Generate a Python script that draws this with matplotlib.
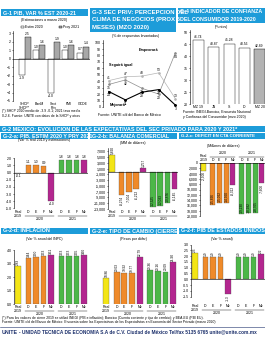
import numpy as np
import matplotlib
matplotlib.use('Agg')
import matplotlib.pyplot as plt
from matplotlib.patches import Rectangle
from matplotlib import font_manager

names = {f.name for f in font_manager.fontManager.ttflist}
narrow = 'Liberation Sans Narrow' if 'Liberation Sans Narrow' in names else 'Liberation Sans'
plt.rcParams['font.family'] = [narrow, 'DejaVu Sans']

# G-1 PIB estimaciones
g1_cats = ['SHCP\nSHCP*', 'BanM', 'Sect\nPriv', 'FMI', 'OCDE']
g1_2020 = [-1.9, 1.0, -4.0, 1.0, 0.7]
g1_2021 = [2.5, 1.6, 1.9, 1.6, 1.4]

# G-3 clima de negocios (% de respuestas)
g3_mejorara = [24, 11, 23, 27, 3]
g3_igual = [41, 47, 48, 53, 13]
g3_empeorara = [35, 42, 29, 20, 84]

# G-4 confianza del consumidor
g4_cats = ['MZ 19', 'JN', 'S', 'D', 'MZ 20']
g4_vals = [46.74, 43.87, 45.28, 43.56, 42.89]

# G-2 expectativas
g2_cats = ['Real\n2019', 'D', 'E', 'F', 'Mz', 'D', 'E', 'F', 'Mz']
g2_years = ['2020', '2021']
g2a_pib = [-0.1, 1.1, 1.0, 0.9, -4.0, 1.8, 1.8, 1.8, 1.8]
g2b_balanza = [5820, -8274, -7004, -6212, 1257, -12325, -12033, -10876, -6145]
g2c_cuenta = [-2900, -15826, -15022, -14960, -8312, -19230, -18982, -18705, -7600]
g2d_inflacion = [2.83, 3.44, 3.50, 3.53, 3.61, 3.53, 3.53, 3.55, 3.60]
g2e_cambio = [18.86, 20.03, 19.92, 19.77, 22.79, 20.36, 20.16, 20.09, 21.90]
g2f_pib_eu = [2.3, 1.9, 1.9, 1.9, -1.3, 1.9, 1.9, 1.9, 2.2]

W, H = 265, 342
BLUE = '#1d9cd9'
YEL, ORA, MAG, GRE = '#f3e516', '#ef8a2a', '#b3268f', '#4cb748'
G2_COLORS = [YEL, ORA, ORA, ORA, MAG, GRE, GRE, GRE, MAG]
POS = np.arange(9) + np.array([0, .35, .35, .35, .35, .7, .7, .7, .7])

fig = plt.figure(figsize=(2.65, 3.42), dpi=100)


def box(x0, y0, x1, y1):
    return [x0 / W, 1 - y1 / H, (x1 - x0) / W, (y1 - y0) / H]


def put(x, y, s, size=2.6, **kw):
    fig.text(x / W, 1 - y / H, s, fontsize=size, **kw)


def banner(x0, y0, x1, y1, lines, size=3.9):
    fig.add_artist(Rectangle((x0 / W, 1 - y1 / H), (x1 - x0) / W, (y1 - y0) / H,
                             transform=fig.transFigure, color=BLUE, lw=0))
    step = (y1 - y0) / len(lines)
    for i, s in enumerate(lines):
        put(x0 + 2, y0 + step * (i + 0.5), s, size=size, color='white',
            va='center', fontweight='bold')


def style(ax, size=2.5):
    for s in ['top', 'right', 'bottom']:
        ax.spines[s].set_visible(False)
    ax.spines['left'].set_linewidth(0.4)
    ax.tick_params(labelsize=size, length=1, width=0.4, pad=0.8)
    ax.tick_params(axis='x', length=0)
    ax.patch.set_alpha(0)


# ---------------- G-1
banner(1, 9, 88, 16, ['G-1 PIB, VAR % EST 2020-21'])
put(44, 20, '(Estimaciones a marzo 2020)', size=2.5, ha='center', va='center')
fig.add_artist(Rectangle((21 / W, 1 - 28 / H), 3 / W, 2.5 / H, transform=fig.transFigure,
                         facecolor='white', edgecolor='black', lw=0.3))
put(25, 26.7, 'Estim 2020', size=2.5, va='center')
fig.add_artist(Rectangle((59 / W, 1 - 28 / H), 3 / W, 2.5 / H, transform=fig.transFigure,
                         facecolor='#a8a8a8', edgecolor='black', lw=0.3))
put(63, 26.7, 'Proy 2021', size=2.5, va='center')

ax = fig.add_axes(box(13, 31, 90, 101))
style(ax)
x = np.arange(len(g1_cats))
w = 0.41
ax.bar(x - w / 2, g1_2020, w, color='white', edgecolor='black', lw=0.3)
ax.bar(x + w / 2, g1_2021, w, color='#a8a8a8', edgecolor='black', lw=0.3)
ax.axhline(0, color='black', lw=0.4)
for xi, a, b in zip(x, g1_2020, g1_2021):
    for xx, v in [(xi - w / 2, a), (xi + w / 2, b)]:
        ax.text(xx, v + (0.15 if v >= 0 else -0.2), f'{v:.1f}', fontsize=2.4,
                ha='center', va='bottom' if v >= 0 else 'top')
ax.set_xlim(-0.79, 4.48)
ax.set_ylim(-5, 3.25)
ax.set_yticks(np.arange(-5, 4, 1))
ax.set_xticks(x)
ax.set_xticklabels(g1_cats, fontsize=2.5, linespacing=0.9)
put(2, 111, '(*) SHCP 2020 medio de -3.9 -0.1; 2021 tasa media', size=2.4, va='center')
put(2, 116, '0-2.6. Fuente: UNITE con datos de la SHCP y otros', size=2.4, va='center')

# ---------------- G-3
banner(90, 8, 176, 32, ['G-3 SEC PRIV: PERCEPCION DEL', 'CLIMA DE NEGOCIOS (PROX 6',
                        'MESES) (MZO 2020)'], size=4.3)
put(135, 36, '(% de respuestas levantadas)', size=2.5, ha='center', va='center')
ax = fig.add_axes(box(103, 40, 177, 107))
style(ax)
xt = np.arange(len(g3_mejorara))
ax.plot(xt, g3_empeorara, color='#8c8c8c', lw=0.5, marker='o', ms=0.9)
ax.plot(xt, g3_igual, color='#b5b5b5', lw=0.5, marker='o', ms=0.9)
ax.plot(xt, g3_mejorara, color='black', lw=0.8, marker='o', ms=1.1)
for serie, dy in [(g3_empeorara, -6), (g3_igual, 4), (g3_mejorara, -6)]:
    for xi, v in zip(xt, serie):
        ax.text(xi, v + dy, str(v), fontsize=2.4, ha='center', va='center')
ax.text(2.4, 87, 'Empeorará', fontsize=2.7, fontweight='bold', ha='center')
ax.text(0.7, 63, 'Seguirá igual', fontsize=2.7, fontweight='bold', ha='center')
ax.text(0.5, 2, 'Mejorará', fontsize=2.7, fontweight='bold', ha='center')
ax.set_xlim(-0.35, 4.1)
ax.set_ylim(0, 104)
ax.set_yticks(np.arange(0, 101, 10))
ax.set_xticks([])
put(98, 115, 'Fuente: UNITE c/d del Banco de México', size=2.5, va='center')

# ---------------- G-4
banner(178, 8, 265, 23, ['G-4 INDICADOR DE CONFIANZA', 'DEL CONSUMIDOR 2019-2020'], size=3.8)
put(221, 27, '(Puntos)', size=2.5, ha='center', va='center')
ax = fig.add_axes(box(190, 30, 265, 104))
style(ax)
x4 = np.arange(len(g4_vals))
ax.bar(x4, g4_vals, 0.72, color=['white'] * 4 + ['#b3b3b3'], edgecolor='black', lw=0.3)
for xi, v in zip(x4, g4_vals):
    ax.text(xi, v + 0.6, f'{v:.2f}', fontsize=2.4, ha='center', va='bottom')
ax.set_xlim(-0.55, 4.35)
ax.set_ylim(20, 51)
ax.set_yticks(np.arange(20, 51, 5))
ax.set_xticks(x4)
ax.set_xticklabels(g4_cats, fontsize=2.5)
ax.axhline(20, color='black', lw=0.4)
put(183, 112, 'Fuente: INEGI-Banxico, Encuesta Nacional', size=2.5, va='center')
put(183, 117, 'y Confianza del Consumidor (mzo 2020)', size=2.5, va='center')

# ---------------- G-2 banners
banner(0, 126, 265, 132, ['G-2 MEXICO: EVOLUCION DE LAS EXPECTATIVAS DEL SEC PRIVADO PARA 2020 Y 2021*'],
       size=4.0)
banner(1, 133, 88, 139, ['G-2-a: PIB. ESTIM 2020 Y PRY 2021'])
banner(90, 133, 177, 139, ['G-2-b: BALANZA COMERCIAL'])
banner(179, 133, 265, 139, ['G-2-c: DEFICIT EN CTA CORRIENTE'], size=3.2)
banner(1, 228, 88, 234, ['G-2-d: INFLACION'])
banner(90, 228, 177, 234, ['G-2-e: TIPO DE CAMBIO (CIERRE)'])
banner(179, 228, 265, 234, ['G-2-f: PIB DE ESTADOS UNIDOS'])


def g2_bars(ax, vals, fmt, rotate, pad, inside_below=None):
    ax.bar(POS, vals, 0.75, color=G2_COLORS, edgecolor='#444444', lw=0.2)
    for p, v in zip(POS, vals):
        if v >= 0:
            y, va = v + pad, 'bottom'
        elif inside_below is not None and v < inside_below:
            y, va = v + pad, 'bottom'
        else:
            y, va = v - pad, 'top'
        ax.text(p, y, fmt(v), fontsize=2.3, ha='center', va=va,
                rotation=90 if rotate else 0)
    ax.set_xlim(-0.55, POS[-1] + 0.5)


def g2_xlabels(ax, height, top=False):
    ax.set_xticks(POS)
    ax.set_xticklabels(g2_cats, fontsize=2.5, linespacing=0.9)
    tr = ax.get_xaxis_transform()
    if top:
        ax.xaxis.tick_top()
        yl, yt = 1 + 6.5 / height, 1 + 9.5 / height
    else:
        yl, yt = -6.5 / height, -10 / height
    for k, yr in enumerate(g2_years):
        a, b = POS[1 + 4 * k] - 0.4, POS[4 + 4 * k] + 0.4
        ax.plot([a, b], [yl, yl], transform=tr, color='black', lw=0.3, clip_on=False)
        ax.text((a + b) / 2, yt, yr, transform=tr, fontsize=2.5, ha='center', va='center')


# G-2-a
put(44, 140.5, '(Var % real 2019 y estimaciones)', size=2.5, ha='center', va='center')
ax = fig.add_axes(box(14, 144, 88, 209))
style(ax)
g2_bars(ax, g2a_pib, lambda v: f'{v:.1f}', False, 0.15)
ax.axhline(0, color='black', lw=0.4)
ax.set_ylim(-5.1, 4.0)
ax.set_yticks(np.arange(-5, 3, 1.0))
ax.set_yticklabels([f'{t:.1f}' for t in np.arange(-5, 3, 1.0)])
ax.spines['left'].set_bounds(-5, 2)
g2_xlabels(ax, 65)

# G-2-b
put(133, 143, '(MM de dólares)', size=2.5, ha='center', va='center')
ax = fig.add_axes(box(108, 148, 178, 209))
style(ax)
g2_bars(ax, g2b_balanza, lambda v: f'{v:,.0f}', True, 300, inside_below=-10000)
ax.axhline(0, color='black', lw=0.4)
ax.set_ylim(-13000, 8200)
ax.set_yticks(np.arange(-13000, 8000, 2000))
ax.set_yticklabels([f'{t:,}' for t in np.arange(-13000, 8000, 2000)])
g2_xlabels(ax, 61)

# G-2-c
put(223, 146, '(Millones de dólares)', size=2.5, ha='center', va='center')
ax = fig.add_axes(box(200, 163, 265, 216))
style(ax)
g2_bars(ax, g2c_cuenta, lambda v: f'{v:,.0f}', True, 300, inside_below=-12000)
ax.axhline(0, color='black', lw=0.4)
ax.set_ylim(-20000, 0)
ax.set_yticks(np.arange(-20000, 1, 2000))
ax.set_yticklabels([f'{abs(t):,}' for t in np.arange(-20000, 1, 2000)])
g2_xlabels(ax, 53, top=True)

# G-2-d
put(44, 239, '(Var % anual del INPC)', size=2.5, ha='center', va='center')
ax = fig.add_axes(box(14, 244, 88, 304))
style(ax)
g2_bars(ax, g2d_inflacion, lambda v: f'{v:.2f}', True, 0.08)
ax.axhline(0, color='black', lw=0.4)
ax.set_ylim(0, 4.45)
ax.set_yticks(np.arange(0, 4.1, 1.0))
ax.set_yticklabels([f'{t:.1f}' for t in np.arange(0, 4.1, 1.0)])
ax.spines['left'].set_bounds(0, 4)
g2_xlabels(ax, 60)

# G-2-e
put(133, 239, '(Pesos por dólar)', size=2.5, ha='center', va='center')
ax = fig.add_axes(box(102, 244, 177, 304))
style(ax)
ax.spines['left'].set_visible(False)
ax.set_yticks([])
g2_bars(ax, g2e_cambio, lambda v: f'{v:.2f}', True, 0.25)
ax.axhline(14, color='black', lw=0.4)
ax.set_ylim(14, 25.3)
g2_xlabels(ax, 60)

# G-2-f
put(222, 239, '(Var % anual)', size=2.5, ha='center', va='center')
ax = fig.add_axes(box(191, 244, 265, 303))
style(ax)
g2_bars(ax, g2f_pib_eu, lambda v: f'{v:.1f}', True, 0.08)
ax.axhline(0, color='black', lw=0.4)
ax.set_ylim(-2.05, 3.05)
ax.set_yticks(np.arange(-1.5, 3.01, 0.5))
ax.set_yticklabels([f'{t:.1f}' for t in np.arange(-1.5, 3.01, 0.5)])
ax.spines['left'].set_bounds(-1.5, 3.0)
g2_xlabels(ax, 59)

# ---------------- footer
put(2, 318, '(*) Para los valores de cierre 2019 se utilizó INEGI (PIB e inflación); Banxico '
            '(Cuenta corriente y tipo de cambio); y BEA-EU (PIB EU).', size=2.4, va='center')
put(2, 322.5, 'Fuente: UNITE c/d del Banco de México: Encuesta sobre las Expectativas de los '
              'Especialistas en Economía del Sector Privado (marzo 2020)', size=2.4, va='center')
fig.add_artist(plt.Line2D([0, 1], [1 - 327 / H] * 2, transform=fig.transFigure,
                          color='#1b2f6b', lw=0.4))
put(2, 332, 'UNITE', size=3.8, va='center', fontweight='bold', color='#1b2f6b')
put(19, 332, '- UNIDAD TECNICA DE ECONOMIA S.A de C.V. Ciudad de México Tel/fax 5135 6765 '
             'unite@unite.com.mx', size=3.4, va='center', fontweight='bold', color='#1b2f6b')

fig.savefig('out.png', dpi=100)
